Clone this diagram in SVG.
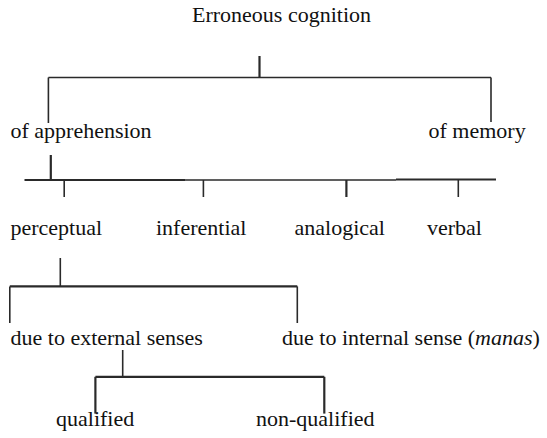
<svg xmlns="http://www.w3.org/2000/svg" width="547" height="438" viewBox="0 0 547 438">
<style>
.c line{stroke:#2a2a2a;stroke-width:1.6;fill:none}
.c .t{stroke-width:2.2}
</style>
<rect width="547" height="438" fill="#fff"/>
<g font-family="'Liberation Serif', 'Times New Roman', serif" font-size="22" fill="#111">
<g id="n-root"><text x="281.5" y="22" text-anchor="middle">Erroneous cognition</text></g>
<g id="n-apprehension"><text x="10.5" y="138">of apprehension</text></g>
<g id="n-memory"><text x="428.5" y="138">of memory</text></g>
<g id="n-perceptual"><text x="10.5" y="235">perceptual</text></g>
<g id="n-inferential"><text x="156" y="235">inferential</text></g>
<g id="n-analogical"><text x="294.5" y="235">analogical</text></g>
<g id="n-verbal"><text x="427" y="235">verbal</text></g>
<g id="n-external"><text x="10.5" y="345">due to external senses</text></g>
<g id="n-internal"><text x="282" y="345">due to internal sense (<tspan font-style="italic">manas</tspan>)</text></g>
<g id="n-qualified"><text x="56" y="426">qualified</text></g>
<g id="n-nonqualified"><text x="256" y="426">non-qualified</text></g>
</g>
<g id="connectors" class="c">
<line class="t" x1="259.5" y1="56" x2="259.5" y2="77.5"/>
<line x1="48.4" y1="77.5" x2="491" y2="77.5"/>
<line x1="48.4" y1="77.5" x2="48.4" y2="123"/>
<line x1="491" y1="77.5" x2="491" y2="122"/>
<line class="t" x1="50.8" y1="155" x2="50.8" y2="180"/>
<line class="t" x1="24.5" y1="180" x2="185" y2="180"/>
<line x1="185" y1="180" x2="396" y2="180"/>
<line class="t" x1="396" y1="179.5" x2="496" y2="179.5"/>
<line x1="64.2" y1="180" x2="64.2" y2="197"/>
<line x1="203.4" y1="180" x2="203.4" y2="197"/>
<line class="t" x1="346.4" y1="180" x2="346.4" y2="197"/>
<line x1="458.3" y1="180" x2="458.3" y2="197"/>
<line x1="60.3" y1="258" x2="60.3" y2="286.4"/>
<line class="t" x1="9.8" y1="286.4" x2="297.3" y2="286.4"/>
<line x1="9.8" y1="286.4" x2="9.8" y2="323"/>
<line x1="297.3" y1="286.4" x2="297.3" y2="323"/>
<line x1="122.7" y1="350" x2="122.7" y2="376.8"/>
<line class="t" x1="95.4" y1="376.8" x2="324.3" y2="376.8"/>
<line class="t" x1="95.4" y1="376.8" x2="95.4" y2="413.6"/>
<line class="t" x1="324.3" y1="376.8" x2="324.3" y2="413.6"/>
</g>
</svg>
